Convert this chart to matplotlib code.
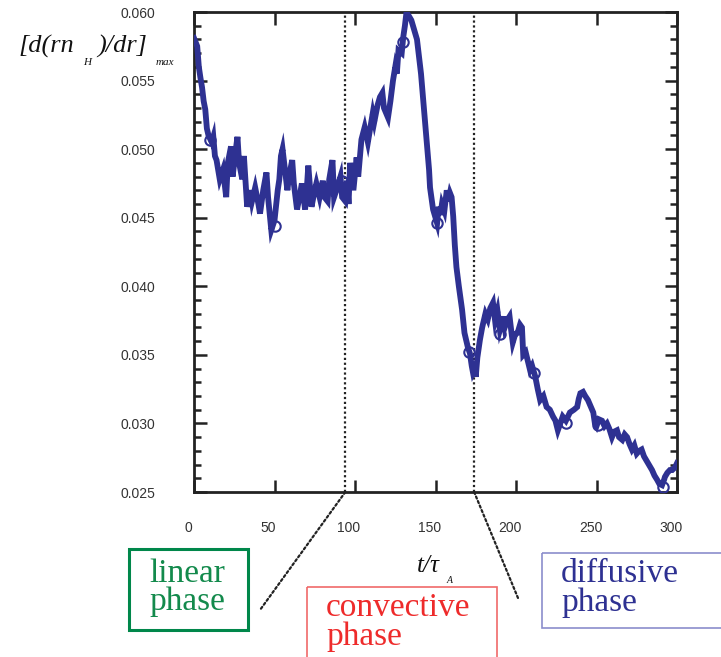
import matplotlib
matplotlib.use("Agg")
import matplotlib.pyplot as plt
import matplotlib.transforms as mtransforms
from matplotlib.patches import Rectangle, ConnectionPatch
from matplotlib.ticker import MultipleLocator, FormatStrFormatter

# trace of [d(rn_H)/dr]_max against t/tau_A
t_vals = [0, 2, 3, 4, 5, 6, 7, 8, 9, 11, 12, 13, 14, 16, 18, 20, 21, 23, 24, 26,
          27, 28, 30, 31, 33, 35, 36, 38, 40, 41, 43, 45, 46, 48, 50, 52, 53, 54, 55, 56,
          58, 59, 61, 62, 64, 66, 67, 69, 70, 71, 73, 75, 76, 78, 80, 81, 83, 84, 86, 87,
          89, 91, 92, 94, 95, 96, 97, 99, 101, 102, 104, 106, 108, 109, 111, 112, 114, 115.5,
          117, 118, 120.5, 122, 123.6, 125, 126, 127, 129, 130, 131, 132, 133.5, 135, 136.5,
          138.5, 140, 141, 142, 143.5, 144.7, 146, 146.6, 148.5, 150, 151, 152, 153, 154,
          155.5, 157, 158, 159, 160, 161, 162, 163, 164.5, 166.5, 168, 170, 171.4, 172.5,
          173.3, 174.5, 175, 176, 177.6, 179, 181, 182.5, 184, 185.7, 187, 188.5, 190, 191,
          192, 193, 194.4, 196, 197, 198, 199.5, 201, 202.5, 203.7, 204.5, 206, 208.7, 210,
          212, 213.5, 215, 217, 219, 221, 223, 224.5, 226, 227.5, 229, 231, 233.5, 236, 238,
          239, 240, 241.6, 243, 244.7, 246.5, 248, 249, 250, 251.5, 253.4, 255, 256.5, 258,
          259.6, 261, 262.7, 264, 266, 267.5, 269, 270.5, 272, 273.5, 275, 276.5, 278, 279.5,
          281, 282.5, 284.5, 286, 287.6, 289, 290.7, 292, 292.5, 294, 295.6, 297, 298.8, 300]
grad_vals = [0.0581, 0.0575, 0.0560, 0.0552, 0.0545, 0.0535, 0.0529, 0.0515, 0.0510, 0.0505,
             0.0509, 0.0495, 0.0492, 0.0478, 0.0485, 0.0465, 0.0490, 0.0502, 0.0480, 0.0500,
             0.0509, 0.0490, 0.0478, 0.0495, 0.0458, 0.0470, 0.0462, 0.0472, 0.0460, 0.0453,
             0.0470, 0.0483, 0.0465, 0.0441, 0.0448, 0.0470, 0.0478, 0.0495, 0.0500, 0.0490,
             0.0470, 0.0480, 0.0492, 0.0475, 0.0456, 0.0468, 0.0475, 0.0456, 0.0470, 0.0488,
             0.0458, 0.0470, 0.0475, 0.0465, 0.0477, 0.0465, 0.0462, 0.0478, 0.0492, 0.0465,
             0.0472, 0.0480, 0.0465, 0.0462, 0.0477, 0.0460, 0.0490, 0.0470, 0.0494, 0.0480,
             0.0507, 0.0516, 0.0505, 0.0512, 0.0526, 0.0520, 0.0532, 0.0538,
             0.0541, 0.0530, 0.0523, 0.0535, 0.0550, 0.0560, 0.0555, 0.0572, 0.0570, 0.0582,
             0.0590, 0.0600, 0.0597, 0.0594, 0.0588,
             0.0580, 0.0565, 0.0555, 0.0541, 0.0520, 0.0504, 0.0485, 0.0472, 0.0456, 0.0450,
             0.0446, 0.0458, 0.0452, 0.0460,
             0.0455, 0.0470, 0.0462, 0.0468, 0.0465, 0.0451, 0.0430, 0.0414, 0.0400, 0.0383,
             0.0366, 0.0356, 0.0351, 0.0342,
             0.0337, 0.0340, 0.0334, 0.0348, 0.0361, 0.0370, 0.0380, 0.0376, 0.0384, 0.0388,
             0.0375, 0.0382, 0.0368, 0.0372,
             0.0378, 0.0370, 0.0375, 0.0378, 0.0368, 0.0359, 0.0365, 0.0366, 0.0372, 0.0370,
             0.0350, 0.0352, 0.0339, 0.0342,
             0.0334, 0.0325, 0.0317, 0.0320, 0.0312, 0.0310, 0.0305, 0.0302, 0.0295, 0.0300,
             0.0305, 0.0302, 0.0308, 0.0310, 0.0312,
             0.0318, 0.0322, 0.0323, 0.0320, 0.0317, 0.0312, 0.0308, 0.0300, 0.0298, 0.0303,
             0.0302, 0.0298, 0.0300, 0.0296,
             0.0290, 0.0294, 0.0295, 0.0290, 0.0288, 0.0292, 0.0290, 0.0285, 0.0281, 0.0284,
             0.0278, 0.0280, 0.0281, 0.0276,
             0.0273, 0.0270, 0.0266, 0.0262, 0.0259, 0.0256, 0.0255, 0.0259, 0.0261, 0.0264,
             0.0266, 0.0266, 0.0268, 0.0271]

# open circles (sampled points)
t_marks = [10, 50, 92, 130, 151, 171, 190, 211, 231, 251, 291]
grad_marks = [0.0507, 0.0444, 0.0477, 0.0578, 0.0446, 0.0352, 0.0365, 0.0337, 0.0300, 0.0299, 0.0254]

phase_bounds = [94, 174]
x_ticks = [0, 50, 100, 150, 200, 250, 300]
phase_names = ["linear\nphase", "convective\nphase", "diffusive\nphase"]

BLUE = "#2e3192"
INK = "#222222"
SERIF = "Liberation Serif"
SANS = "Liberation Sans"

W, H = 721, 657
fig = plt.figure(figsize=(W / 100, H / 100), dpi=100)


def fx(px):
    return px / W


def fy(py):
    return 1 - py / H


ax = fig.add_axes([fx(194), fy(492), fx(677) - fx(194), fy(12) - fy(492)])
ax.plot(t_vals, grad_vals, color=BLUE, lw=4.2, solid_joinstyle="miter", zorder=3)
ax.plot(t_marks, grad_marks, "o", mfc="none", mec=BLUE, ms=7.5, mew=1.5, zorder=3)
for xb in phase_bounds:
    ax.axvline(xb, color=INK, lw=1.6, ls=(0, (1, 1.2)), zorder=2)

ax.set_xlim(0, 300)
ax.set_ylim(0.025, 0.060)
ax.set_xticks(x_ticks)
ax.yaxis.set_major_locator(MultipleLocator(0.005))
ax.yaxis.set_minor_locator(MultipleLocator(0.001))
ax.yaxis.set_major_formatter(FormatStrFormatter("%.3f"))
ax.tick_params(which="both", direction="in", top=True, right=True, color=INK, width=1.8)
ax.tick_params(which="major", length=9)
ax.tick_params(which="minor", length=5)
ax.tick_params(axis="x", pad=21, labelsize=10, labelcolor="#333333")
ax.tick_params(axis="y", pad=28, labelsize=10, labelcolor="#333333")
for lab in ax.get_xticklabels() + ax.get_yticklabels():
    lab.set_family(SANS)
shift = mtransforms.ScaledTranslation(-6 / 100, 0, fig.dpi_scale_trans)
for lab in ax.get_xticklabels():
    lab.set_transform(lab.get_transform() + shift)
for sp in ax.spines.values():
    sp.set_linewidth(2)
    sp.set_color(INK)

# axis labels, built from pieces so the subscripts sit low like the original
ital = dict(family=SERIF, style="italic", color="#111111", va="baseline")
fig.text(fx(18), fy(53), "[d(rn", fontsize=19, **ital)
fig.text(fx(83), fy(65), "H", fontsize=8, **ital)
fig.text(fx(97), fy(53), ")/dr]", fontsize=19, **ital)
fig.text(fx(156), fy(65), "max", fontsize=8, **ital)
fig.text(fx(417), fy(572), "t/τ", fontsize=18, **ital)
fig.text(fx(447), fy(583), "A", fontsize=7, **ital)

# phase boxes in pixel space
over = fig.add_axes([0, 0, 1, 1], facecolor="none")
over.set_xlim(0, W)
over.set_ylim(H, 0)
over.axis("off")

boxes = [
    ((129, 549), 119, 81, "#00874a", 2.2, "#138a4c", 149, 558),
    ((307, 587), 190, 90, "#f06a6a", 1.2, "#ee2b2b", 326, 593),
    ((542, 553), 200, 75, "#8b8dcc", 1.2, BLUE, 561, 559),
]
for (xy, w, h, ec, lw, tc, tx, ty), name in zip(boxes, phase_names):
    over.add_patch(Rectangle(xy, w, h, fill=False, ec=ec, lw=lw, clip_on=False))
    over.text(tx, ty, name, fontsize=24, family=SERIF, color=tc, va="top",
              linespacing=0.92)

# dotted connectors from the phase boundaries down to the boxes
for xb, end in zip(phase_bounds, [(260, 610), (518, 598)]):
    con = ConnectionPatch(xyA=(xb, 0.025), coordsA=ax.transData,
                          xyB=end, coordsB=over.transData,
                          color=INK, lw=1.6, ls=(0, (1, 1.2)))
    fig.add_artist(con)

fig.savefig("out.png", dpi=100)
